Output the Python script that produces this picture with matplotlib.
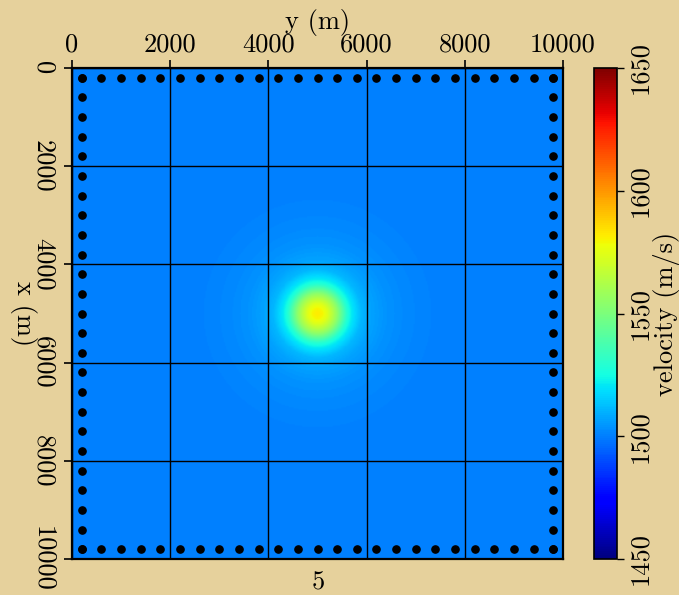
import numpy as np
import matplotlib
matplotlib.use("Agg")
import matplotlib.pyplot as plt
from matplotlib.colors import Normalize

# ---- data ----
y_extent = [0, 10000]          # horizontal axis "y (m)"
x_extent = [0, 10000]          # vertical axis "x (m)"
anomaly_center = [5000, 5000]  # (y, x) in m
profile_radius_m = [0, 100, 200, 300, 400, 500, 600, 700, 900, 1100, 1400, 1800, 2400, 3000, 8000]
profile_velocity = [1582, 1580, 1574, 1565, 1555, 1542, 1529, 1521, 1511, 1507, 1504, 1502, 1500.6, 1500, 1500]
receiver_positions = [200 + 400 * k for k in range(25)]  # along each side
receiver_edge = [200, 9800]
tick_values = [0, 2000, 4000, 6000, 8000, 10000]
tick_labels = ["0", "2000", "4000", "6000", "8000", "10000"]
cbar_ticks = [1450, 1500, 1550, 1600, 1650]
cbar_labels = ["1450", "1500", "1550", "1600", "1650"]
vmin, vmax = 1450, 1650
frame_label = "5"

BG = "#E6D19C"
FONT = "cmr10"
FS = 19

plt.rcParams["font.family"] = [FONT, "DejaVu Serif"]
plt.rcParams["axes.formatter.use_mathtext"] = True

W, H = 679, 595
fig = plt.figure(figsize=(W / 100, H / 100), dpi=100, facecolor=BG)

ax = fig.add_axes([72 / W, (H - 559) / H, 491 / W, 491 / H])
cax = fig.add_axes([594 / W, (H - 559) / H, 23 / W, 491 / H])

# velocity field
n = 401
yy = np.linspace(y_extent[0], y_extent[1], n)
xx = np.linspace(x_extent[0], x_extent[1], n)
YY, XX = np.meshgrid(yy, xx)
R = np.hypot(YY - anomaly_center[0], XX - anomaly_center[1])
V = np.interp(R, profile_radius_m, profile_velocity)

norm = Normalize(vmin=vmin, vmax=vmax)
im = ax.imshow(V, cmap="jet", norm=norm, origin="upper",
               extent=[y_extent[0], y_extent[1], x_extent[1], x_extent[0]],
               interpolation="bilinear", aspect="auto")

# receivers around the border
ry, rx = [], []
for p in receiver_positions:
    ry += [p, p]
    rx += [receiver_edge[0], receiver_edge[1]]
    ry += [receiver_edge[0], receiver_edge[1]]
    rx += [p, p]
ax.plot(ry, rx, "o", color="black", ms=5.2, mec="black", ls="none", zorder=4)

ax.set_xlim(y_extent)
ax.set_ylim(x_extent[1], x_extent[0])
ax.set_xticks(tick_values)
ax.set_xticklabels(tick_labels, fontsize=FS)
ax.set_yticks(tick_values)
ax.set_yticklabels(tick_labels, fontsize=FS, rotation=-90, va="center")
ax.xaxis.tick_top()
ax.xaxis.set_label_position("top")
ax.tick_params(axis="both", direction="out", length=6, width=1.2, color="black")
ax.tick_params(axis="x", pad=2)
ax.tick_params(axis="y", pad=6)
ax.grid(True, color="black", linewidth=1.0)
ax.set_axisbelow(False)
for s in ax.spines.values():
    s.set_linewidth(1.6)
    s.set_color("black")
ax.set_xlabel("y (m)", fontsize=FS, labelpad=3)
ax.set_ylabel("x (m)", fontsize=FS, rotation=-90, labelpad=6, va="center")

# colorbar
cb = fig.colorbar(im, cax=cax, orientation="vertical")
cb.set_ticks(cbar_ticks)
cb.set_ticklabels(cbar_labels)
cax.tick_params(labelsize=FS, length=5, width=1.0, pad=3)
for t in cax.get_yticklabels():
    t.set_rotation(90)
    t.set_va("center")
cb.outline.set_linewidth(1.2)
cb.set_label("velocity (m/s)", fontsize=FS, rotation=90, labelpad=1)

fig.text(318 / W, 1 - 583 / H, frame_label, fontsize=FS, ha="center", va="center")

fig.savefig("out.png", dpi=100, facecolor=BG)
